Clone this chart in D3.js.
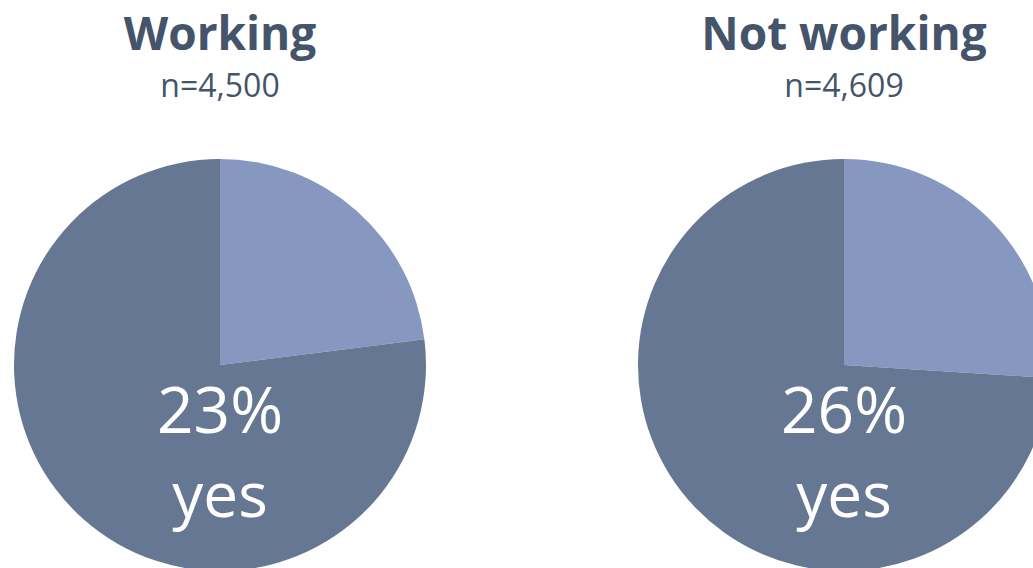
<!DOCTYPE html>
<html>
<head>
<meta charset="utf-8">
<script src="https://cdn.jsdelivr.net/npm/d3@7"></script>
<style>
  html, body { margin: 0; padding: 0; background: #ffffff; overflow: hidden; }
  svg { display: block; }
</style>
</head>
<body>
<svg id="chart" width="1033" height="568"></svg>
<script>
// Share answering "yes", by employment status
const groups = ["Working", "Not working"];
const sampleSizes = ["n=4,500", "n=4,609"];
const yesShare = [23, 26];
const answerLabel = "yes";

const width = 1033, height = 568;
const radius = 206;
const centers = [220, 844];
const centerY = 365;

const colors = { yes: "#8798c0", rest: "#667793" };
const titleColor = "#44546a";
const fontFamily = "'Open Sans', 'Noto Sans', sans-serif";

const svg = d3.select("#chart");

const pie = d3.pie().sort(null).value(d => d.value);
const arc = d3.arc().innerRadius(0).outerRadius(radius);

groups.forEach((name, i) => {
  const g = svg.append("g").attr("transform", `translate(${centers[i]},${centerY})`);
  const slices = [
    { key: "yes", value: yesShare[i] },
    { key: "rest", value: 100 - yesShare[i] }
  ];
  g.selectAll("path")
    .data(pie(slices))
    .join("path")
    .attr("d", arc)
    .attr("fill", d => colors[d.data.key]);

  g.append("text")
    .attr("x", 0).attr("y", 68)
    .attr("text-anchor", "middle")
    .attr("fill", "#ffffff")
    .style("font-family", fontFamily)
    .style("font-size", "64px")
    .text(d3.format("d")(yesShare[i]) + "%");

  g.append("text")
    .attr("x", 0).attr("y", 152)
    .attr("text-anchor", "middle")
    .attr("fill", "#ffffff")
    .style("font-family", fontFamily)
    .style("font-size", "62px")
    .text(answerLabel);

  svg.append("text")
    .attr("x", centers[i]).attr("y", 50)
    .attr("text-anchor", "middle")
    .attr("fill", titleColor)
    .style("font-family", fontFamily)
    .style("font-weight", "700")
    .style("font-size", "46px")
    .text(name);

  svg.append("text")
    .attr("x", centers[i]).attr("y", 97)
    .attr("text-anchor", "middle")
    .attr("fill", titleColor)
    .style("font-family", fontFamily)
    .style("font-size", "32px")
    .text(sampleSizes[i]);
});
</script>
</body>
</html>
